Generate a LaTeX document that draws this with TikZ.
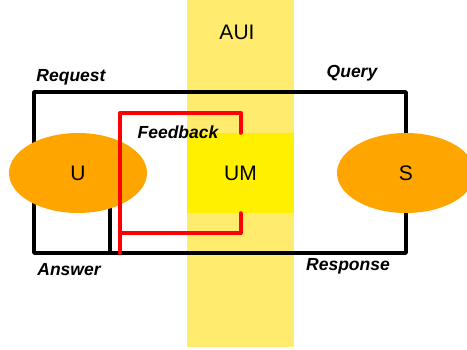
\documentclass[tikz,border=0pt]{standalone}
\usepackage{fontspec}
\setmainfont{Liberation Sans}
\usetikzlibrary{shapes.geometric}
\definecolor{myband}{HTML}{FFEC6E}
\definecolor{mybox}{HTML}{FFF000}
\definecolor{myorange}{HTML}{FFA500}
\definecolor{myred}{HTML}{FF0000}

\begin{document}
\begin{tikzpicture}[x=1pt, y=-1pt,
    wire/.style={line width=3.5pt, line cap=round, line join=round},
    fback/.style={myred, line width=4pt, line cap=round, line join=round},
    party/.style={ellipse, fill=myorange, minimum width=138pt, minimum height=80pt, inner sep=0pt, font=\fontsize{21}{24}\selectfont},
    lbl/.style={font=\fontsize{17.5}{20}\bfseries\itshape\selectfont}]

    \useasboundingbox (0, 0) rectangle (467, 349);
    \clip (0, 0) rectangle (467, 349);

    \fill[myband] (187, 0) rectangle (294, 347);
    \node[fill=mybox, minimum width=107pt, minimum height=80pt, inner sep=0pt,
          font=\fontsize{21}{24}\selectfont] (UM) at (240.5, 173) {UM};
    \node[font=\fontsize{21}{24}\selectfont] (aui) at (237, 32) {AUI};

    \coordinate (rq) at (34, 92);
    \coordinate (an) at (34, 253);
    \coordinate (an2) at (110, 253);
    \coordinate (fbtop) at (120, 113);
    \coordinate (fbmid) at (120, 233);
    \coordinate (fbend) at (120, 253);
    \coordinate (uc) at (78, 173);
    \coordinate (sc) at (406, 173);

    \draw[wire] (rq |- uc) -- (rq) -| (sc);
    \draw[wire] (rq |- uc) -- (an) -| (sc);
    \draw[wire] (an2 |- uc) -- (an2);

    \node[party] (U) at (uc) {U};
    \node[party] (S) at (sc) {S};

    \draw[fback] (UM.north) |- (fbtop) -- (fbend);
    \draw[fback] (UM.south) |- (fbmid);

    \node[lbl] (req) at (71, 77) {Request};
    \node[lbl] (qry) at (352, 73) {Query};
    \node[lbl] (fb) at (178, 132) {Feedback};
    \node[lbl] (ans) at (69, 270) {Answer};
    \node[lbl] (resp) at (348, 266) {Response};

\end{tikzpicture}
\end{document}
